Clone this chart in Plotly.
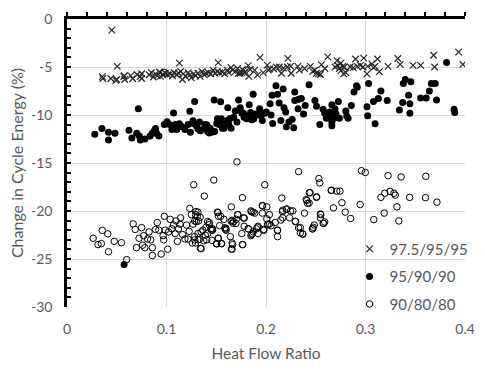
import plotly.graph_objects as go

# ---- Data: series 97.5/95/95 (crosses) ----
s1_x = [0.045, 0.0505, 0.0355, 0.036, 0.044, 0.049, 0.050, 0.057, 0.058, 0.0575, 0.064, 0.066, 0.0705, 0.0735, 0.075, 0.075,
        0.0825, 0.0848, 0.0868, 0.089, 0.0907, 0.093, 0.0939, 0.0963, 0.0988, 0.1012, 0.1037, 0.1061, 0.1077, 0.1103, 0.112,
        0.1142, 0.1169, 0.1191, 0.1218, 0.1234, 0.125, 0.1273, 0.1292, 0.1316, 0.1338, 0.1358, 0.138, 0.1397, 0.142, 0.1446,
        0.1469, 0.1488, 0.1512, 0.1534, 0.1561, 0.1586, 0.161, 0.1626, 0.1649, 0.1665, 0.1691, 0.1714, 0.174, 0.1763, 0.1782,
        0.113, 0.152, 0.116,
        0.1724, 0.1757, 0.179, 0.1822, 0.1841, 0.1828, 0.1887, 0.1914, 0.1972, 0.2025, 0.2012, 0.2037, 0.2077, 0.2103, 0.2135,
        0.2155, 0.2175, 0.2214, 0.2247, 0.2253, 0.2335, 0.232, 0.2387, 0.2446, 0.249, 0.2469, 0.2547, 0.2508, 0.2527, 0.2557, 0.2593,
        0.194, 0.222, 0.262,
        0.2694, 0.2714, 0.2753, 0.272, 0.277, 0.2737, 0.2786, 0.2753, 0.2802, 0.278,
        0.2845, 0.2877, 0.29, 0.2917, 0.2949, 0.2982, 0.2975, 0.3022, 0.3015, 0.3064, 0.308, 0.312, 0.3096, 0.3139, 0.3227,
        0.3325, 0.3348, 0.3478, 0.3554, 0.3684, 0.3694, 0.3936, 0.3978]
s1_y = [-1.16, -4.93, -6.0, -6.2, -6.2, -6.4, -6.3, -6.0, -6.3, -5.9, -5.9, -6.2, -5.8, -6.0, -5.7, -6.2,
        -5.81, -5.58, -6.04, -5.71, -5.91, -5.52, -5.97, -5.78, -5.65, -5.81, -5.71, -5.91, -5.58, -5.81, -5.65,
        -5.45, -5.71, -5.97, -5.58, -5.84, -6.14, -5.71, -5.91, -5.65, -5.97, -5.48, -5.81, -5.65, -5.58, -5.71,
        -5.32, -5.65, -5.48, -5.58, -5.52, -5.71, -5.32, -5.58, -5.06, -5.32, -5.48, -5.16, -5.65, -5.26, -5.58,
        -4.6, -4.54, -6.3,
        -5.65, -5.58, -5.52, -4.86, -5.26, -5.97, -5.32, -5.84, -5.58, -5.32, -4.8, -5.19, -5.19, -5.0, -5.0,
        -5.65, -5.12, -5.0, -4.93, -5.65, -5.32, -4.93, -5.16, -4.93, -5.32, -5.45, -5.78, -5.65, -5.72, -4.76, -5.16,
        -4.0, -4.1, -3.95,
        -5.0, -4.34, -4.6, -4.83, -4.93, -5.16, -5.0, -5.38, -5.58, -5.71,
        -5.0, -5.06, -4.17, -4.93, -4.83, -4.08, -5.0, -4.93, -5.71, -4.67, -5.06, -4.17, -4.93, -5.48, -4.93,
        -4.11, -4.73, -4.83, -4.83, -3.78, -5.0, -3.45, -4.73]

# ---- Data: series 95/90/90 (filled circles) ----
s2_x = [0.0279, 0.0351, 0.0417, 0.0417, 0.0482, 0.0623, 0.0652, 0.0701, 0.0717, 0.0727, 0.0737, 0.0783, 0.0835, 0.0858,
        0.0874, 0.089, 0.09, 0.0923, 0.0978, 0.1005, 0.1031, 0.1054, 0.1071, 0.1087, 0.1103, 0.1129, 0.1152, 0.1185, 0.1217,
        0.1234, 0.124, 0.1266, 0.1283,
        0.138, 0.1407, 0.143, 0.1479, 0.1485, 0.1512, 0.1528, 0.1544, 0.1561, 0.1593, 0.1616, 0.1635, 0.1649, 0.1708, 0.1724,
        0.174, 0.1757, 0.178, 0.1806, 0.1832, 0.1845, 0.1871, 0.1878, 0.1897, 0.1936, 0.1953, 0.1963, 0.2002, 0.2041, 0.2051,
        0.2061, 0.2067, 0.21, 0.2116, 0.2132, 0.2149, 0.2172, 0.2181, 0.2198, 0.2204, 0.223, 0.2263, 0.2279, 0.2289, 0.2289,
        0.2322, 0.2328, 0.2355, 0.2377, 0.2394, 0.2433, 0.2492, 0.2508, 0.2541, 0.2574, 0.259, 0.2606, 0.2639, 0.2655,
        0.1266, 0.1299, 0.1331, 0.1315, 0.1341, 0.1387, 0.1413, 0.1439, 0.1463, 0.1505, 0.1551, 0.1571, 0.1577, 0.161, 0.1626,
        0.1675, 0.1691, 0.174, 0.1773, 0.1822, 0.1855, 0.192, 0.1985,
        0.2662, 0.2639, 0.2649, 0.2681, 0.2662, 0.2662, 0.2704, 0.2737, 0.2694, 0.2727, 0.2802, 0.2812, 0.2825, 0.2858, 0.2884,
        0.291, 0.2917, 0.3015, 0.3022, 0.3031, 0.308, 0.3096, 0.3129, 0.3155, 0.3218, 0.3341, 0.3374, 0.338, 0.34, 0.3433,
        0.3446, 0.3446, 0.3456, 0.3554, 0.361, 0.3642, 0.3662, 0.3701, 0.3714, 0.389, 0.3897,
        0.3815, 0.0574]
s2_y = [-12.0, -11.4, -11.8, -12.6, -11.9, -11.6, -12.4, -11.9, -9.35, -12.2, -12.6, -12.5, -12.2, -11.9,
        -11.7, -11.4, -11.9, -12.2, -11.0, -10.7, -11.0, -11.5, -9.8, -11.0, -11.5, -10.9, -11.2, -11.5, -11.0,
        -9.6, -11.8, -10.6, -8.6,
        -11.38, -11.05, -11.87, -8.43, -11.71, -10.4, -10.98, -8.63, -11.38, -10.73, -9.25, -10.4, -11.38, -10.73, -8.43,
        -9.25, -9.81, -10.24, -10.4, -8.93, -9.74, -7.84, -10.4, -9.9, -9.35, -10.0, -10.56, -9.68, -8.82, -10.0,
        -7.94, -10.88, -6.95, -7.84, -8.76, -10.56, -7.29, -9.25, -9.68, -11.22, -10.73, -10.46, -11.32, -8.5, -7.61,
        -9.35, -8.37, -8.27, -9.9, -9.02, -6.86, -8.5, -9.09, -10.98, -9.41, -9.81, -10.33, -9.68, -10.07,
        -10.88, -11.12, -10.73, -11.44, -11.64, -10.98, -11.71, -11.38, -11.77, -10.88, -10.4, -10.79, -11.38, -10.56, -10.98,
        -10.24, -9.58, -9.41, -9.81, -10.07, -10.49, -10.0, -9.81,
        -8.93, -9.81, -10.14, -10.33, -10.73, -11.12, -9.9, -10.33, -9.35, -8.6, -9.58, -10.14, -10.33, -9.02, -7.61,
        -6.95, -7.12, -9.15, -10.07, -6.73, -8.6, -10.92, -8.27, -7.51, -8.5, -9.48, -8.69, -6.73, -6.31, -7.94,
        -8.82, -9.81, -6.53, -8.23, -8.23, -7.51, -6.73, -6.73, -8.43, -9.41, -9.74,
        -4.54, -25.56]

# ---- Data: series 90/80/80 (open circles) ----
s3_x = [0.0263, 0.0312, 0.0345, 0.041, 0.0417, 0.0475, 0.0547, 0.06, 0.0665, 0.0685, 0.0698, 0.0724, 0.075, 0.076, 0.077,
        0.0782, 0.0809, 0.0825, 0.0841, 0.0858, 0.0858, 0.089, 0.0907, 0.0923, 0.0946, 0.0966, 0.0972, 0.0978, 0.0988, 0.1012,
        0.1021, 0.1037, 0.1054, 0.1071, 0.1087, 0.1096, 0.111, 0.112, 0.1136, 0.1142, 0.1162, 0.1185, 0.1201, 0.1217, 0.1227,
        0.1234, 0.125, 0.126, 0.1273, 0.1283,
        0.138, 0.1475, 0.1292, 0.1316, 0.1338, 0.1299, 0.1266, 0.1365, 0.139, 0.1316, 0.1283, 0.1331, 0.1348, 0.1292, 0.1414,
        0.143, 0.1446, 0.1463, 0.1404, 0.1456, 0.1512, 0.1522, 0.1534, 0.1522, 0.1502, 0.1554, 0.1586, 0.16, 0.1652, 0.1659,
        0.1652, 0.1665, 0.1675, 0.1698, 0.1714, 0.1708, 0.1763, 0.1763, 0.1757, 0.1773,
        0.1988, 0.2328, 0.2531, 0.2541, 0.2655, 0.2159, 0.2443, 0.241, 0.2433, 0.2508, 0.1963, 0.1963, 0.1855, 0.1887, 0.2034,
        0.2165, 0.2204, 0.227, 0.2387, 0.2551, 0.2547, 0.259, 0.1518, 0.1544, 0.1577, 0.1718, 0.1782, 0.2008, 0.2093, 0.2149,
        0.2237, 0.2296, 0.2345, 0.2368, 0.2466, 0.2485, 0.2574, 0.1649, 0.1668, 0.1701, 0.178, 0.1822, 0.1855, 0.1904, 0.192,
        0.1976, 0.2018, 0.2051, 0.2116, 0.1596, 0.1593, 0.1642, 0.1659, 0.1659, 0.1767, 0.1518, 0.1505, 0.1551, 0.1463, 0.1453,
        0.1414, 0.1397, 0.143, 0.1348, 0.1375, 0.1341, 0.1316, 0.1283, 0.1309, 0.1322, 0.1296, 0.2116, 0.192, 0.1848, 0.1871,
        0.2008,
        0.2959, 0.2998, 0.3227, 0.3358, 0.3606, 0.2404, 0.2436, 0.2508, 0.2417, 0.2659, 0.2711, 0.2743, 0.2678, 0.2763, 0.2796,
        0.2851, 0.2946, 0.3083, 0.3155, 0.3194, 0.3247, 0.3286, 0.3299, 0.3316, 0.3188, 0.3335, 0.3443, 0.3603, 0.3718, 0.2547,
        0.258, 0.2475, 0.2469, 0.2328, 0.2345, 0.2371, 0.2296, 0.2247, 0.2208, 0.2168, 0.2168, 0.2116, 0.2034, 0.2018, 0.1978,
        0.1966, 0.1871, 0.1848, 0.1822, 0.1861, 0.1914,
        0.0355, 0.0975]
s3_y = [-22.84, -23.5, -23.4, -22.38, -24.24, -23.16, -23.3, -25.07, -21.34, -21.92, -23.82, -22.84, -21.73, -23.56, -22.57,
        -23.82, -22.91, -22.18, -23.0, -23.82, -24.64, -21.92, -21.2, -22.0, -24.48, -22.57, -23.0, -20.55, -22.0, -23.98,
        -22.18, -20.87, -21.86, -21.46, -22.35, -21.04, -23.16, -21.86, -21.37, -20.71, -22.45, -22.91, -21.46, -22.91, -22.12,
        -19.73, -20.38, -23.33, -17.27, -21.04,
        -18.45, -16.78, -20.38, -20.12, -20.65, -21.1, -21.37, -22.0, -22.51, -22.35, -23.0, -22.94, -23.92, -23.33, -21.1,
        -21.43, -21.86, -22.0, -23.0, -23.06, -20.12, -20.55, -21.53, -22.84, -23.4, -23.4, -21.76, -22.0, -19.57, -20.97,
        -23.98, -23.5, -21.1, -21.3, -20.38, -14.88, -18.61, -23.5, -22.35, -20.71,
        -17.27, -15.9, -16.62, -17.07, -17.86, -18.65, -18.09, -18.91, -19.17, -18.58, -19.43, -20.22, -20.09, -20.22, -20.38,
        -20.06, -19.82, -19.99, -20.22, -20.38, -20.71, -21.14, -20.16, -20.55, -20.87, -20.38, -20.75, -20.81, -21.2, -20.94,
        -20.71, -21.07, -21.73, -22.38, -21.86, -21.46, -21.27, -21.07, -21.27, -20.87, -21.59, -21.86, -22.45, -21.86, -21.59,
        -21.92, -21.37, -21.53, -21.99, -21.79, -21.92, -22.67, -23.33, -23.98, -23.5, -22.84, -23.43, -23.4, -21.86, -22.0,
        -22.35, -21.69, -21.2, -22.18, -23.1, -23.89, -23.0, -22.67, -20.55, -21.04, -20.06, -22.67, -22.35, -22.57, -22.18,
        -19.57,
        -15.8, -15.99, -16.32, -16.45, -16.39, -18.81, -18.09, -18.52, -19.2, -17.83, -17.93, -17.93, -19.67, -19.14, -20.12,
        -20.78, -19.33, -20.9, -18.58, -18.15, -17.96, -18.15, -18.35, -19.57, -20.22, -21.04, -18.58, -18.61, -19.08, -20.31,
        -21.3, -21.69, -21.86, -21.76, -22.28, -22.42, -21.1, -19.99, -19.79, -19.92, -20.71, -22.02, -21.37, -21.43, -22.02,
        -19.47, -20.12, -19.99, -21.86, -22.35, -21.69, -22.02,
        -5.55, -11.8]

series_names = ["97.5/95/95", "95/90/90", "90/80/80"]
x_ticks = [0, 0.1, 0.2, 0.3, 0.4]
x_tick_text = ["0", "0.1", "0.2", "0.3", "0.4"]
y_ticks = [0, -5, -10, -15, -20, -25, -30]
y_tick_text = ["0", "-5", "-10", "-15", "-20", "-25", "-30"]

FONT = "Lato, 'Open Sans', sans-serif"
GRAY = "#595959"

fig = go.Figure()
fig.add_trace(go.Scatter(x=s1_x, y=s1_y, mode="markers", name=series_names[0], legendgroup="a",
                         marker=dict(symbol="x-thin-open", size=6.5, color="#262626",
                                     line=dict(width=1.2, color="#262626"))))
fig.add_trace(go.Scatter(x=s2_x, y=s2_y, mode="markers", name=series_names[1], legendgroup="b",
                         marker=dict(symbol="circle", size=7, color="black", line=dict(width=0))))
fig.add_trace(go.Scatter(x=s3_x, y=s3_y, mode="markers", name=series_names[2], legendgroup="c",
                         marker=dict(symbol="circle-open", size=6.5, color="black", line=dict(width=1, color="black"))))
# dummy trace to carry the top axis
fig.add_trace(go.Scatter(x=[None], y=[None], xaxis="x2", yaxis="y", showlegend=False, hoverinfo="skip"))

fig.update_layout(
    width=485, height=370,
    margin=dict(l=67, r=10, t=13, b=52),
    paper_bgcolor="white", plot_bgcolor="white",
    font=dict(family=FONT, color=GRAY, size=14),
    showlegend=True,
    legend=dict(x=0.71, y=0.258, xanchor="left", yanchor="top", bgcolor="rgba(0,0,0,0)",
                font=dict(size=15, color=GRAY), traceorder="grouped", tracegroupgap=5,
                itemwidth=30),
    xaxis=dict(range=[0, 0.4], tickvals=x_ticks, ticktext=x_tick_text, showgrid=True, gridcolor="#d9d9d9",
               gridwidth=1, zeroline=False, showline=False, ticks="", ticklabelstandoff=12,
               title=dict(text="Heat Flow Ratio", font=dict(size=15.5, color=GRAY), standoff=12)),
    xaxis2=dict(range=[0, 0.4], overlaying="x", anchor="y", side="top", showgrid=False, zeroline=False,
                showline=True, linecolor="black", linewidth=2.5, showticklabels=False,
                tickvals=[0, 0.1, 0.2, 0.3, 0.4], ticks="outside", ticklen=4, tickcolor="black", tickwidth=1.5,
                minor=dict(dtick=0.02, ticks="outside", ticklen=4, tickcolor="black", tickwidth=1.5)),
    yaxis=dict(range=[-30, 0], tickvals=y_ticks, ticktext=y_tick_text, showgrid=True, gridcolor="#d9d9d9",
               gridwidth=1, zeroline=False, showline=True, linecolor="black", linewidth=2.5,
               ticks="inside", ticklen=4, tickcolor="black", tickwidth=1.5, ticklabelstandoff=9,
               minor=dict(dtick=1, ticks="inside", ticklen=4, tickcolor="black", tickwidth=1.5),
               title=dict(text="Change in Cycle Energy (%)", font=dict(size=16, color=GRAY), standoff=4)),
)

fig.write_html("out.html")
